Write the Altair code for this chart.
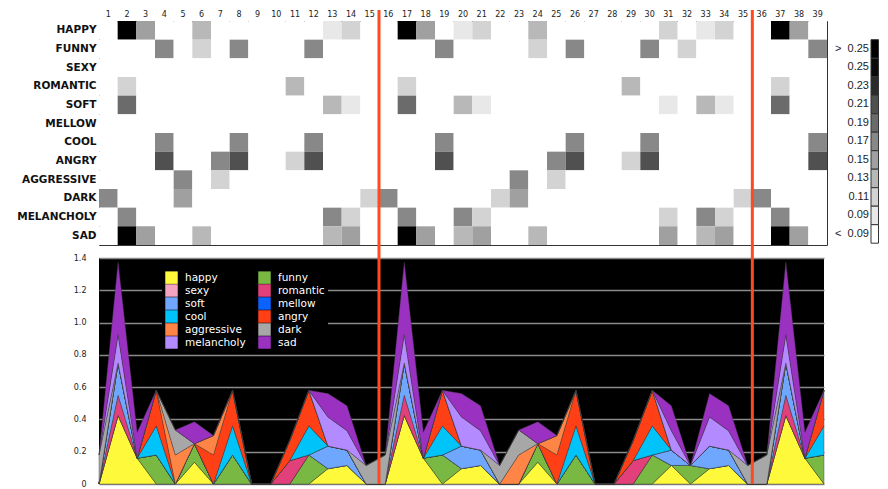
import altair as alt
import pandas as pd
import numpy as np

cols = list(range(1, 40))
moods = ["happy", "funny", "sexy", "romantic", "soft", "mellow",
         "cool", "angry", "aggressive", "dark", "melancholy", "sad"]
mood_colors = ["#fff93c", "#78b843", "#f4a3c1", "#e2407b", "#6fa7ff", "#0a62ff",
               "#00c4f9", "#ff4016", "#ff8547", "#a7a7a7", "#b38aff", "#9b31c0"]

#            c1-c10                                          c11-c20                                          c21-c30                                        c31-c39
happy      = [0, .425, .16, 0, 0, .135, 0, 0, 0, 0,          0, 0, .095, .115, 0, 0, .425, .16, 0, .095,      .115, 0, 0, .135, 0, 0, 0, 0, 0, 0,           .115, 0, .095, .115, 0, 0, .425, .16, 0]
funny      = [0, 0, 0, .18, 0, .115, 0, .18, 0, 0,           0, .18, 0, 0, 0, 0, 0, 0, .18, 0,                0, 0, 0, .115, 0, .18, 0, 0, 0, .18,           0, .115, 0, 0, 0, 0, 0, 0, .18]
sexy       = [0, 0, 0, 0, 0, 0, 0, 0, 0, 0,                  0, 0, 0, 0, 0, 0, 0, 0, 0, 0,                    0, 0, 0, 0, 0, 0, 0, 0, 0, 0,                  0, 0, 0, 0, 0, 0, 0, 0, 0]
romantic   = [0, .125, 0, 0, 0, 0, 0, 0, 0, 0,               .145, 0, 0, 0, 0, 0, .125, 0, 0, 0,              0, 0, 0, 0, 0, 0, 0, 0, .145, 0,               0, 0, 0, 0, 0, 0, .125, 0, 0]
soft       = [0, .2, 0, 0, 0, 0, 0, 0, 0, 0,                 0, 0, .14, .095, 0, 0, .2, 0, 0, .14,            .095, 0, 0, 0, 0, 0, 0, 0, 0, 0,               .095, 0, .14, .095, 0, 0, .2, 0, 0]
mellow     = [0, 0, 0, 0, 0, 0, 0, 0, 0, 0,                  0, 0, 0, 0, 0, 0, 0, 0, 0, 0,                    0, 0, 0, 0, 0, 0, 0, 0, 0, 0,                  0, 0, 0, 0, 0, 0, 0, 0, 0]
cool       = [0, 0, 0, .18, 0, 0, 0, .18, 0, 0,              0, .18, 0, 0, 0, 0, 0, 0, .18, 0,                0, 0, 0, 0, 0, .18, 0, 0, 0, .18,              0, 0, 0, 0, 0, 0, 0, 0, .18]
angry      = [0, 0, 0, .22, 0, 0, .18, .22, 0, 0,            .125, .22, 0, 0, 0, 0, 0, 0, .22, 0,             0, 0, 0, 0, .18, .22, 0, 0, .125, .22,         0, 0, 0, 0, 0, 0, 0, 0, .22]
aggressive = [0, 0, 0, 0, .18, 0, .12, 0, 0, 0,              0, 0, 0, 0, 0, 0, 0, 0, 0, 0,                    0, 0, .18, 0, .12, 0, 0, 0, 0, 0,              0, 0, 0, 0, 0, 0, 0, 0, 0]
dark       = [.18, 0, 0, 0, .155, 0, 0, 0, 0, 0,             0, 0, 0, 0, .115, .18, 0, 0, 0, 0,               0, .115, .155, 0, 0, 0, 0, 0, 0, 0,            0, 0, 0, 0, .115, .18, 0, 0, 0]
melancholy = [0, .175, 0, 0, 0, 0, 0, 0, 0, 0,               0, 0, .18, .12, 0, 0, .175, 0, 0, .18,           .12, 0, 0, 0, 0, 0, 0, 0, 0, 0,                .12, 0, .18, .12, 0, 0, .175, 0, 0]
sad        = [0, .45, .16, 0, 0, .135, 0, 0, 0, 0,           0, 0, .145, .155, 0, 0, .45, .16, 0, .145,       .155, 0, 0, .135, 0, 0, 0, 0, 0, 0,            .155, 0, .145, .155, 0, 0, .45, .16, 0]

series = {"happy": happy, "funny": funny, "sexy": sexy, "romantic": romantic,
          "soft": soft, "mellow": mellow, "cool": cool, "angry": angry,
          "aggressive": aggressive, "dark": dark, "melancholy": melancholy, "sad": sad}

# heat-map shading levels (legend top to bottom)
level_labels = [">\u00a0\u00a00.25", "0.25", "0.23", "0.21", "0.19", "0.17",
                "0.15", "0.13", "0.11", "0.09", "<\u00a0\u00a00.09"]
level_grays = ["#000000", "#0b0b0b", "#2b2b2b", "#505050", "#6b6b6b", "#888888",
               "#a0a0a0", "#b8b8b8", "#d3d3d3", "#e8e8e8", "#ffffff"]
thresholds = [0.09, 0.11, 0.13, 0.15, 0.17, 0.19, 0.21, 0.23, 0.25, 0.27]

# section boundaries (red lines) between columns
sections = [15.5, 35.5]


def level_of(v):
    n = sum(1 for t in thresholds if v >= t - 1e-9)
    return level_labels[len(level_labels) - 1 - n]


rows = []
for k, m in enumerate(moods):
    for c, v in zip(cols, series[m]):
        rows.append({"col": c, "mood": m, "k": k, "value": v, "level": level_of(v)})
df = pd.DataFrame(rows)
sec_df = pd.DataFrame({"b": sections})
leg_df = pd.DataFrame({"level": level_labels})

# legend shows two columns filled column-wise: reorder so it reads row-wise
leg_order = moods[0::2] + moods[1::2]
leg_colors = [mood_colors[moods.index(m)] for m in leg_order]

gray_scale = alt.Scale(domain=level_labels, range=level_grays)
HW, HH = 728, 224

cells = alt.Chart(df).mark_rect().encode(
    x=alt.X("col:O", scale=alt.Scale(paddingInner=0, paddingOuter=0),
            axis=alt.Axis(orient="top", title=None, ticks=False, domain=False,
                          labelAngle=0, labelPadding=3, labelFont="DejaVu Sans",
                          labelFontSize=8, labelColor="#222")),
    y=alt.Y("mood:N", sort=moods, scale=alt.Scale(paddingInner=0, paddingOuter=0),
            axis=alt.Axis(title=None, ticks=False, domain=False, labelPadding=3,
                          labelFont="DejaVu Sans", labelFontWeight="bold",
                          labelFontSize=10.5, labelColor="#111",
                          labelExpr="upper(datum.label)")),
    color=alt.Color("level:N", scale=gray_scale, legend=None),
)

leg_y = alt.Y("level:N", sort=level_labels,
              scale=alt.Scale(domain=level_labels, range=[18.7, 222.2],
                              paddingInner=0, paddingOuter=0), axis=None)
swatches = alt.Chart(leg_df).mark_rect(stroke="#333", strokeWidth=1).encode(
    x=alt.value(HW + 44), x2=alt.value(HW + 51.5), y=leg_y,
    color=alt.Color("level:N", scale=gray_scale, legend=None),
)
swatch_text = alt.Chart(leg_df).mark_text(align="right", baseline="middle",
                                          font="Liberation Sans", fontSize=11,
                                          color="#222").encode(
    x=alt.value(HW + 42), y=leg_y, text="level:N",
)

heat = alt.layer(cells, swatches, swatch_text).resolve_scale(y="independent").properties(
    width=HW, height=HH,
    view=alt.ViewBackground(fill="white", stroke="#333", strokeWidth=1))

area = alt.Chart(df).mark_area(interpolate="linear", stroke="#3a3a3a", strokeWidth=0.4).encode(
    x=alt.X("col:Q", scale=alt.Scale(domain=[1, 39], nice=False, zero=False), axis=None),
    y=alt.Y("value:Q", stack="zero", scale=alt.Scale(domain=[0, 1.4], nice=False),
            axis=alt.Axis(title=None, values=[0, 0.2, 0.4, 0.6, 0.8, 1.0, 1.2, 1.4],
                          ticks=False, domain=False, grid=True, gridColor="#8a8a8a",
                          gridWidth=1.5, labelPadding=13, labelFont="DejaVu Sans",
                          labelFontSize=8, labelColor="#222",
                          labelExpr="datum.value == 0 ? '0' : format(datum.value, '.1f')")),
    color=alt.Color("mood:N", scale=alt.Scale(domain=leg_order, range=leg_colors),
                    legend=alt.Legend(orient="none", legendX=63, legendY=10, title=None,
                                      columns=2, columnPadding=12, rowPadding=0,
                                      symbolType="square", symbolSize=156,
                                      symbolStrokeWidth=0, symbolOpacity=1,
                                      labelColor="white", labelFont="DejaVu Sans",
                                      labelFontSize=10.5, labelOffset=7,
                                      fillColor="black", padding=3)),
    order=alt.Order("k:Q", sort="ascending"),
)

rule = alt.Chart(sec_df).mark_rule(color="#ff4a1f", strokeWidth=3).encode(
    x=alt.X("b:Q", scale=alt.Scale(domain=[0.5, 39.5], range=[0, HW], nice=False, zero=False),
            axis=None),
    y=alt.value(-248),
    y2=alt.value(226),
)

bottom = alt.layer(area, rule).resolve_scale(x="independent").properties(
    width=725, height=226, view=alt.ViewBackground(fill="black", strokeWidth=0))

chart = alt.vconcat(heat, bottom, spacing=13, bounds="flush").resolve_scale(
    color="independent").properties(
    padding={"left": 8, "top": 0, "right": 0, "bottom": 0}).configure(background="white")

chart.save("out.html", embed_options={"renderer": "svg", "actions": False})
